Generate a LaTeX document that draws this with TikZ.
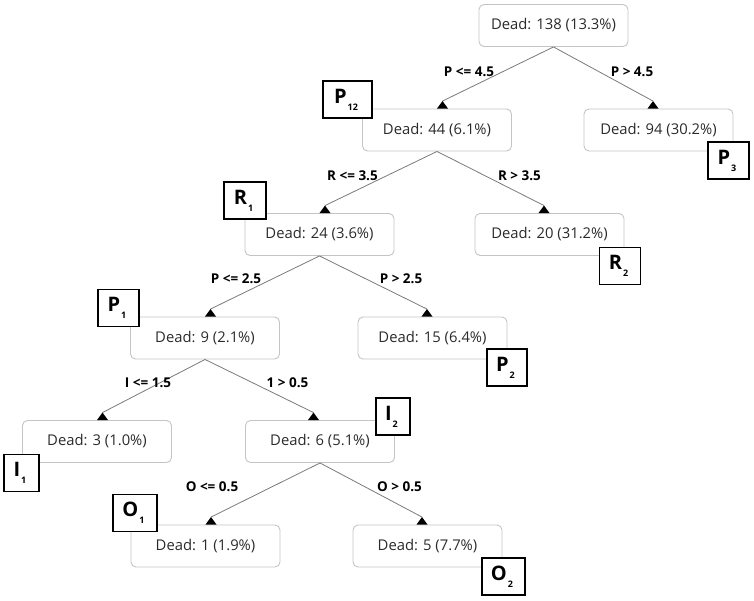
\documentclass[tikz,border=0pt]{standalone}
\usepackage{fontspec}
\setmainfont{Open Sans}
\usetikzlibrary{calc}
\definecolor{boxline}{HTML}{C4C4C4}
\definecolor{edgeline}{HTML}{7A7A7A}
\definecolor{txt}{HTML}{2A2A2A}
\tikzset{
  dnode/.style={draw=boxline, line width=0.9pt, rounded corners=5pt, minimum width=149pt, minimum height=42pt, inner sep=0pt, text=txt, font=\fontsize{14.8}{14.8}\selectfont},
  edge/.style={draw=edgeline, line width=0.8pt},
  elabel/.style={font=\fontsize{13.5}{13.5}\selectfont\bfseries, text=black, inner sep=0pt},
  tag/.style={draw=black, line width=1.3pt, fill=white, minimum height=37pt, inner sep=0pt, text=black},
  tri/.style={fill=black}
}
\newcommand{\tagtxt}[2]{{\fontsize{20}{20}\selectfont\bfseries #1}\kern1pt\raisebox{-7pt}{\fontsize{9}{9}\selectfont\bfseries #2}\kern3pt}
\newcommand{\mytri}[1]{\fill[tri] (#1) -- ++(-5.5,7.5) -- ++(11,0) -- cycle;}
\begin{document}
\begin{tikzpicture}[x=1pt,y=-1pt]
\useasboundingbox (0,0) rectangle (754,600);
% decision nodes
\node[dnode] (root) at (553.5,25.5) {Dead: 138 (13.3\%)};
\node[dnode] (n44) at (437,130) {Dead: 44 (6.1\%)};
\node[dnode] (n94) at (658.5,130) {Dead: 94 (30.2\%)};
\node[dnode] (n24) at (319.5,234.5) {Dead: 24 (3.6\%)};
\node[dnode] (n20) at (549.5,234.5) {Dead: 20 (31.2\%)};
\node[dnode] (n9) at (205,338) {Dead: 9 (2.1\%)};
\node[dnode] (n15) at (432.5,338) {Dead: 15 (6.4\%)};
\node[dnode] (n3) at (97,441.5) {Dead: 3 (1.0\%)};
\node[dnode] (n6) at (320,441.5) {Dead: 6 (5.1\%)};
\node[dnode] (n1) at (205.5,546) {Dead: 1 (1.9\%)};
\node[dnode] (n5) at (427.5,546) {Dead: 5 (7.7\%)};
% arrow tips
\coordinate (t44) at ($(n44.north)+(5.5,-7.5)$);
\coordinate (t94) at ($(n94.north)+(-5.5,-7.5)$);
\coordinate (t24) at ($(n24.north)+(5.5,-7.5)$);
\coordinate (t20) at ($(n20.north)+(-5.5,-7.5)$);
\coordinate (t9) at ($(n9.north)+(5.5,-7.5)$);
\coordinate (t15) at ($(n15.north)+(-5.5,-7.5)$);
\coordinate (t3) at ($(n3.north)+(5.5,-7.5)$);
\coordinate (t6) at ($(n6.north)+(-6.5,-7.5)$);
\coordinate (t1) at ($(n1.north)+(5.5,-7.5)$);
\coordinate (t5) at ($(n5.north)+(-5.5,-7.5)$);
% edges
\draw[edge] (root.south) -- (t44);
\draw[edge] (root.south) -- (t94);
\draw[edge] (n44.south) -- (t24);
\draw[edge] (n44.south) -- (t20);
\draw[edge] (n24.south) -- (t9);
\draw[edge] (n24.south) -- (t15);
\draw[edge] (n9.south) -- (t3);
\draw[edge] (n9.south) -- (t6);
\draw[edge] (n6.south) -- (t1);
\draw[edge] (n6.south) -- (t5);
\mytri{t44}\mytri{t94}\mytri{t24}\mytri{t20}\mytri{t9}
\mytri{t15}\mytri{t3}\mytri{t6}\mytri{t1}\mytri{t5}
% edge labels
\node[elabel] (l1) at (469,72) {P <= 4.5};
\node[elabel] (l2) at (632,72) {P > 4.5};
\node[elabel] (l3) at (352.5,176) {R <= 3.5};
\node[elabel] (l4) at (519.5,176) {R > 3.5};
\node[elabel] (l5) at (236,279) {P <= 2.5};
\node[elabel] (l6) at (401,279) {P > 2.5};
\node[elabel] (l7) at (148,383) {I <= 1.5};
\node[elabel] (l8) at (287.5,383) {1 > 0.5};
\node[elabel] (l9) at (212,487) {O <= 0.5};
\node[elabel] (l10) at (399.5,487) {O > 0.5};
% tags
\node[tag, minimum width=49pt] (gP12) at (347.5,99.5) {\tagtxt{P}{12}};
\node[tag, minimum width=41pt] (gP3) at (728.5,160.5) {\tagtxt{P}{3}};
\node[tag, minimum width=42pt] (gR1) at (245,200.5) {\tagtxt{R}{1}};
\node[tag, minimum width=41pt] (gR2) at (620,266) {\tagtxt{R}{2}};
\node[tag, minimum width=41pt] (gP1) at (118.5,308) {\tagtxt{P}{1}};
\node[tag, minimum width=40pt] (gP2) at (507,367.5) {\tagtxt{P}{2}};
\node[tag, minimum width=35pt] (gI1) at (21.5,473) {\tagtxt{I}{1}};
\node[tag, minimum width=34pt] (gI2) at (393,416.5) {\tagtxt{I}{2}};
\node[tag, minimum width=44pt] (gO1) at (135,513) {\tagtxt{O}{1}};
\node[tag, minimum width=43pt] (gO2) at (503.5,576.5) {\tagtxt{O}{2}};
\end{tikzpicture}
\end{document}
